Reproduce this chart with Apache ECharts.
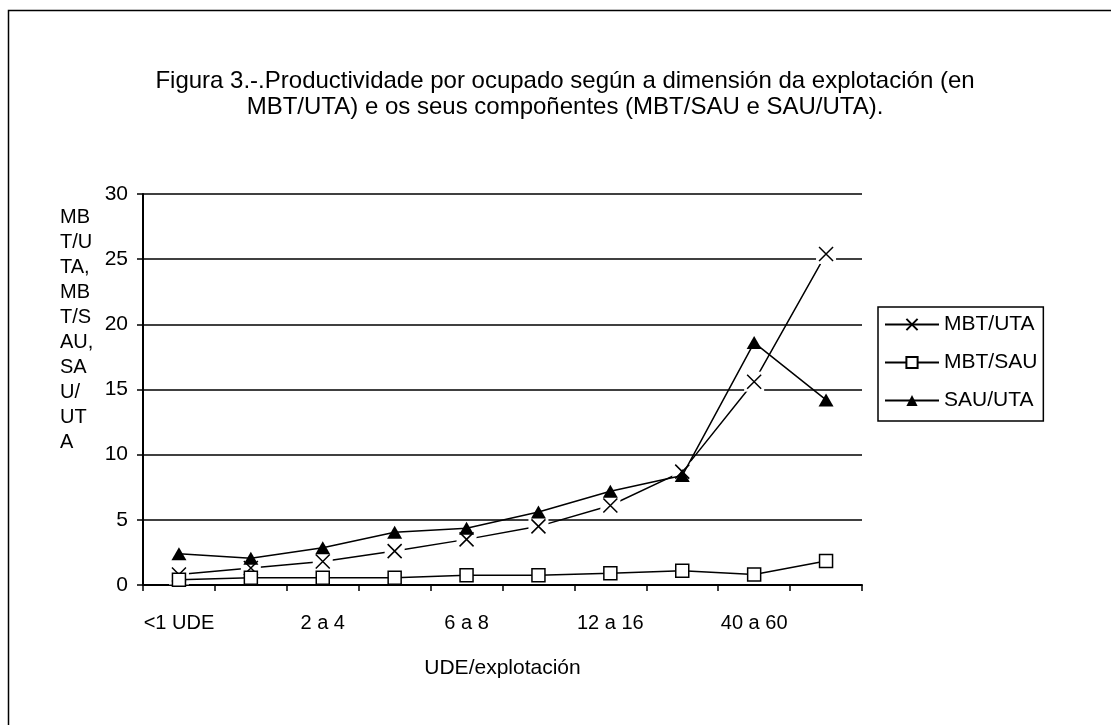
<!DOCTYPE html>
<html>
<head>
<meta charset="utf-8">
<script src="https://cdn.jsdelivr.net/npm/echarts@6/dist/echarts.min.js"></script>
<style>
  html, body { margin: 0; padding: 0; background: #fff; }
  #chart { width: 1111px; height: 725px; }
</style>
</head>
<body>
<div id="chart"></div>
<script>
// categorias (UDE/explotación)
const categorias = ["<1 UDE", "1 a 2", "2 a 4", "4 a 6", "6 a 8", "8 a 12", "12 a 16", "16 a 40", "40 a 60", ">60"];
const mbtUta = [0.8, 1.3, 1.8, 2.6, 3.5, 4.5, 6.1, 8.7, 15.6, 25.4];
const mbtSau = [0.4, 0.55, 0.55, 0.55, 0.75, 0.75, 0.9, 1.1, 0.8, 1.85];
const sauUta = [2.4, 2.05, 2.85, 4.05, 4.35, 5.6, 7.2, 8.4, 18.6, 14.2];
const yTicks = [0, 5, 10, 15, 20, 25, 30];

const FONT = "Liberation Sans, Arial, sans-serif";
const X_PATH = "path://M0,0L10,10M10,0L0,10";

const chart = echarts.init(document.getElementById("chart"));

chart.setOption({
    backgroundColor: "#fff",
    animation: false,
    textStyle: { fontFamily: FONT, color: "#000" },
    title: {
        text: "Figura 3.-.Productividade por ocupado según a dimensión da explotación (en\nMBT/UTA) e os seus compoñentes (MBT/SAU e SAU/UTA).",
        left: 560,
        top: 63,
        textAlign: "center",
        textStyle: { fontFamily: FONT, fontSize: 24, fontWeight: "normal", color: "#000", lineHeight: 26 }
    },
    graphic: [
        {
            type: "rect",
            left: 6, top: 8,
            shape: { width: 1200, height: 800 },
            style: { fill: "none", stroke: "#000", lineWidth: 1.5 },
            silent: true
        },
        {
            type: "text",
            left: 60, top: 205,
            style: {
                text: "MB\nT/U\nTA,\nMB\nT/S\nAU,\nSA\nU/\nUT\nA",
                font: "20px " + FONT,
                lineHeight: 25,
                fill: "#000"
            }
        }
    ],
    legend: {
        orient: "vertical",
        left: 878,
        top: 307,
        padding: [7, 6, 10, 6],
        itemGap: 17,
        itemWidth: 54,
        itemHeight: 14,
        borderColor: "#000",
        borderWidth: 1.5,
        borderRadius: 0,
        data: ["MBT/UTA", "MBT/SAU", "SAU/UTA"],
        textStyle: { fontFamily: FONT, fontSize: 21, color: "#000", padding: [0, 0, 0, 0] }
    },
    grid: { left: 143, right: 249, top: 194, bottom: 140 },
    xAxis: {
        type: "category",
        data: categorias,
        boundaryGap: true,
        name: "UDE/explotación",
        nameLocation: "middle",
        nameGap: 73,
        nameTextStyle: { fontFamily: FONT, fontSize: 21, color: "#000", verticalAlign: "top" },
        axisLine: { lineStyle: { color: "#000", width: 2 } },
        axisTick: { show: true, interval: 0, length: 6, lineStyle: { color: "#000", width: 1.5 } },
        axisLabel: { interval: 1, margin: 28, fontFamily: FONT, fontSize: 20, color: "#000" }
    },
    yAxis: {
        type: "value",
        min: yTicks[0],
        max: yTicks[yTicks.length - 1],
        interval: 5,
        axisLine: { show: true, lineStyle: { color: "#000", width: 2 } },
        axisTick: { show: true, length: 6, lineStyle: { color: "#000", width: 1.5 } },
        axisLabel: { margin: 15, fontFamily: FONT, fontSize: 21, color: "#000" },
        splitLine: { show: true, lineStyle: { color: "#000", width: 1.5 } }
    },
    series: [
        {
            name: "MBT/UTA",
            type: "line",
            data: mbtUta,
            z: 2,
            symbol: X_PATH,
            symbolSize: 14,
            lineStyle: { color: "#000", width: 1.5 },
            itemStyle: { color: "none", borderColor: "#000", borderWidth: 1.5 }
        },
        {
            // fondo branco detrás das cruces
            name: "_fondo",
            type: "line",
            data: mbtUta,
            z: 3,
            symbol: "rect",
            symbolSize: 20,
            lineStyle: { width: 0, opacity: 0 },
            itemStyle: { color: "#fff", borderWidth: 0 },
            silent: true
        },
        {
            name: "_cruces",
            type: "line",
            data: mbtUta,
            z: 4,
            symbol: X_PATH,
            symbolSize: 14,
            lineStyle: { width: 0, opacity: 0 },
            itemStyle: { color: "none", borderColor: "#000", borderWidth: 1.5 },
            silent: true
        },
        {
            name: "MBT/SAU",
            type: "line",
            data: mbtSau,
            z: 5,
            symbol: "rect",
            symbolSize: 13,
            lineStyle: { color: "#000", width: 1.5 },
            itemStyle: { color: "#fff", borderColor: "#000", borderWidth: 1.5 }
        },
        {
            name: "SAU/UTA",
            type: "line",
            data: sauUta,
            z: 6,
            symbol: "triangle",
            symbolSize: [15, 13],
            lineStyle: { color: "#000", width: 1.5 },
            itemStyle: { color: "#000", borderColor: "#000", borderWidth: 0 }
        }
    ]
});

window.addEventListener("resize", () => chart.resize());
</script>
</body>
</html>
